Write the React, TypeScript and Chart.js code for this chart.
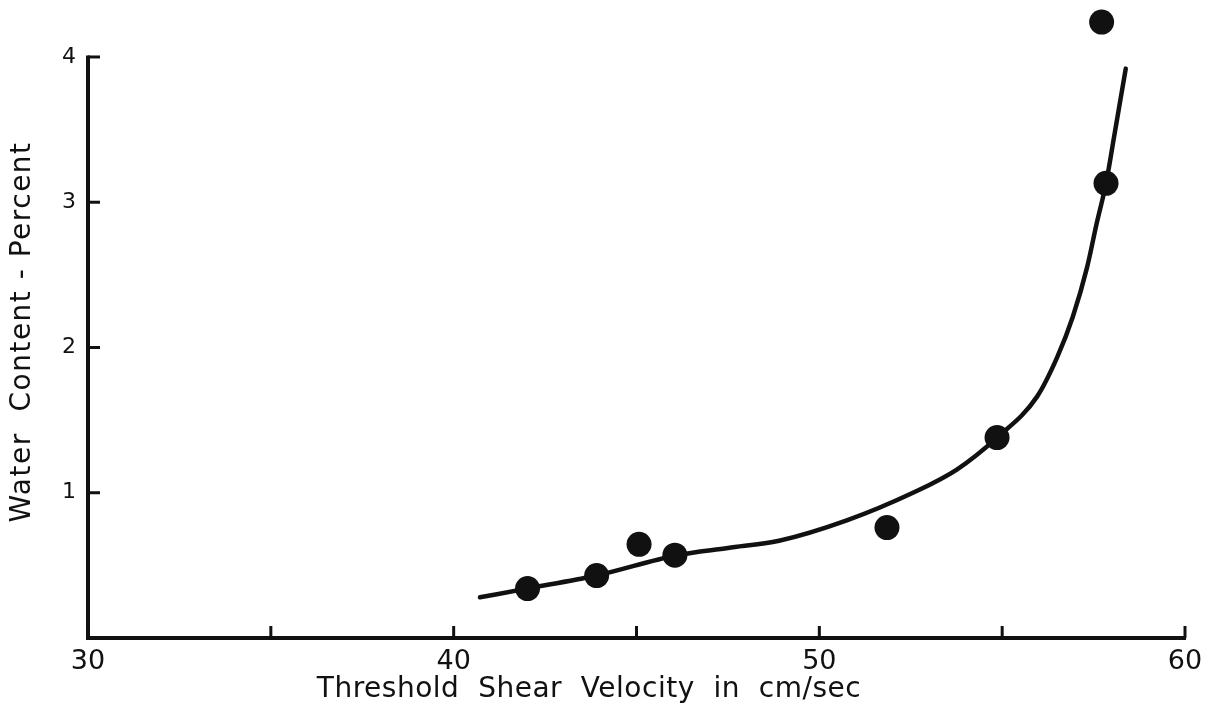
import React, { useEffect, useRef } from "react";
import { Chart, registerables } from "chart.js";

Chart.register(...registerables);

// Axis ranges and tick values
const xMin = 30;
const xMax = 60;
const yMin = 0;
const yAxisTop = 4; // drawn axis ends at 4
const yMax = 4.3; // room for the point above the axis end
const xTickMarks = [30, 35, 40, 45, 50, 55, 60];
const yTickMarks = [1, 2, 3, 4];

// Observed points
const pointX = [42.02, 43.91, 45.07, 46.05, 51.85, 54.86, 57.84, 57.72];
const pointY = [0.34, 0.43, 0.645, 0.57, 0.76, 1.38, 3.13, 4.24];

// Hand-drawn fitted curve
const curveX = [40.72, 42.0, 43.9, 46.1, 47.5, 48.9, 50.75, 52.56, 53.76, 54.86, 55.95, 56.5, 56.93, 57.32, 57.59, 57.84, 58.08, 58.38];
const curveY = [0.28, 0.34, 0.43, 0.57, 0.62, 0.67, 0.81, 1.0, 1.16, 1.38, 1.66, 1.93, 2.21, 2.55, 2.86, 3.13, 3.48, 3.92];

const xTitle = "Threshold  Shear  Velocity  in  cm/sec";
const yTitle = "Water  Content - Percent";

const INK = "#111111";
const FONT = "'DejaVu Sans', sans-serif";

const decorPlugin = {
  id: "decor",
  afterDraw(chart: any) {
    const { ctx, chartArea, scales } = chart;
    const xs = scales.x;
    const ys = scales.y;
    ctx.save();
    ctx.strokeStyle = INK;
    // y axis line from 0 to 4
    ctx.lineWidth = 4;
    ctx.beginPath();
    ctx.moveTo(chartArea.left, ys.getPixelForValue(yMin) + 2);
    ctx.lineTo(chartArea.left, ys.getPixelForValue(yAxisTop) - 1.5);
    ctx.stroke();
    ctx.lineWidth = 3;
    ctx.lineCap = "butt";
    // inward tick marks on x axis
    xTickMarks.forEach((v) => {
      const px = xs.getPixelForValue(v);
      ctx.beginPath();
      ctx.moveTo(px, chartArea.bottom);
      ctx.lineTo(px, chartArea.bottom - 12);
      ctx.stroke();
    });
    // inward tick marks on y axis
    yTickMarks.forEach((v) => {
      const py = ys.getPixelForValue(v);
      ctx.beginPath();
      ctx.moveTo(chartArea.left, py);
      ctx.lineTo(chartArea.left + 12, py);
      ctx.stroke();
    });
    // titles
    ctx.fillStyle = INK;
    ctx.font = `28px ${FONT}`;
    ctx.textAlign = "center";
    ctx.textBaseline = "middle";
    (ctx as any).letterSpacing = "0.5px";
    ctx.fillText(xTitle, 589, 690);
    (ctx as any).letterSpacing = "1.5px";
    ctx.translate(23, 332);
    ctx.rotate(-Math.PI / 2);
    ctx.fillText(yTitle, 0, 0);
    ctx.restore();
  },
};

export default function App() {
  const canvasRef = useRef<HTMLCanvasElement | null>(null);

  useEffect(() => {
    const canvas = canvasRef.current;
    if (!canvas) return;
    const chart = new Chart(canvas, {
      type: "scatter",
      data: {
        datasets: [
          {
            label: "curve",
            data: curveX.map((x, i) => ({ x, y: curveY[i] })),
            showLine: true,
            cubicInterpolationMode: "monotone",
            borderColor: INK,
            borderWidth: 4.5,
            pointRadius: 0,
            borderCapStyle: "round",
            clip: false,
          } as any,
          {
            label: "points",
            data: pointX.map((x, i) => ({ x, y: pointY[i] })),
            backgroundColor: INK,
            borderColor: INK,
            borderWidth: 0,
            pointRadius: 12.5,
            pointHoverRadius: 12.5,
            clip: false,
          } as any,
        ],
      },
      options: {
        responsive: false,
        animation: false,
        devicePixelRatio: 1,
        layout: { padding: { top: 13.4, right: 27, left: 0, bottom: 0 } },
        plugins: {
          legend: { display: false },
          tooltip: { enabled: false },
        },
        scales: {
          x: {
            type: "linear",
            min: xMin,
            max: xMax,
            grid: { display: false, drawTicks: false },
            border: { display: true, color: INK, width: 4 },
            ticks: {
              stepSize: 10,
              color: INK,
              padding: 8,
              font: { family: FONT, size: 27 },
              maxRotation: 0,
            },
            afterFit: (scale: any) => {
              scale.height = 70;
              scale.paddingLeft = 0;
              scale.paddingRight = 0;
            },
          },
          y: {
            type: "linear",
            min: yMin,
            max: yMax,
            grid: { display: false, drawTicks: false },
            border: { display: false },
            ticks: {
              stepSize: 1,
              includeBounds: false,
              color: INK,
              padding: 12,
              font: { family: FONT, size: 22 },
              callback: (v: any) => (v === 0 ? "" : String(v)),
            },
            afterFit: (scale: any) => {
              scale.width = 88;
              scale.paddingTop = 0;
              scale.paddingBottom = 0;
            },
          },
        },
      },
      plugins: [decorPlugin],
    });
    return () => chart.destroy();
  }, []);

  return (
    <div style={{ position: "fixed", left: 0, top: 0, width: 1212, height: 708, background: "#fff" }}>
      <canvas ref={canvasRef} width={1212} height={708} style={{ display: "block" }} />
    </div>
  );
}
